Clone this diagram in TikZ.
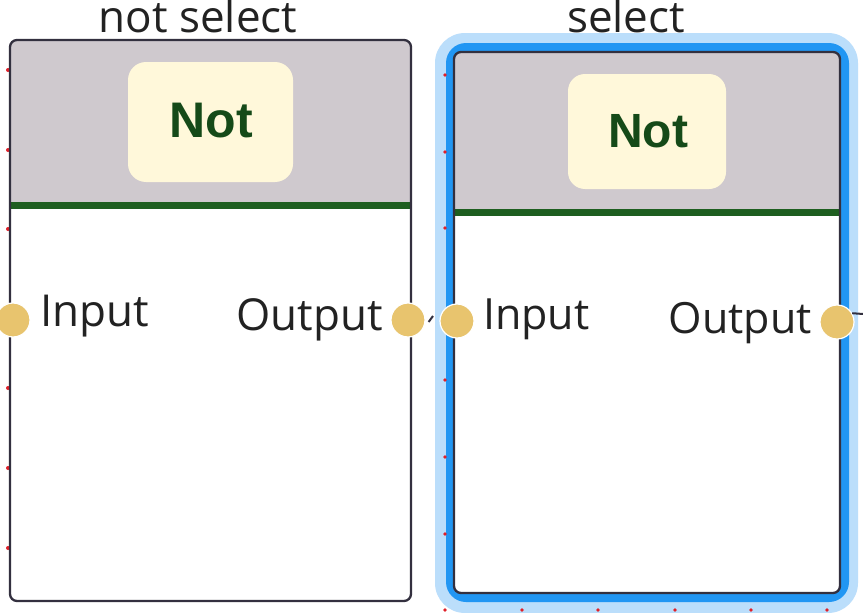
\documentclass[tikz,border=0pt]{standalone}
\usepackage{fontspec}
\newfontfamily\osans{Open Sans}
\newfontfamily\lsans{Liberation Sans}
\definecolor{hdrc}{HTML}{CFC9CE}
\definecolor{titlec}{HTML}{FFF8DA}
\definecolor{greenl}{HTML}{1E5E20}
\definecolor{nottxt}{HTML}{154A18}
\definecolor{borderc}{HTML}{33303F}
\definecolor{portc}{HTML}{E8C46E}
\definecolor{haloc}{HTML}{BBDEFB}
\definecolor{selc}{HTML}{2196F3}
\definecolor{dotc}{HTML}{E0202A}
\definecolor{txtc}{HTML}{222222}
\begin{document}
\begin{tikzpicture}[x=1pt,y=-1pt,
  port/.style={circle, fill=portc, draw=white, line width=1.2pt, minimum size=34pt, inner sep=0pt},
  titlebox/.style={fill=titlec, rounded corners=18pt},
  nottext/.style={inner sep=0pt, text=nottxt, font=\lsans\bfseries\fontsize{50}{55}\selectfont},
  lbl/.style={inner sep=0pt, text=txtc, font=\osans\fontsize{44}{50}\selectfont},
  captext/.style={inner sep=0pt, text=txtc, font=\osans\fontsize{44}{50}\selectfont},
  nodeborder/.style={draw=borderc, line width=2.3pt, rounded corners=7pt},
  greenbar/.style={draw=greenl, line width=7pt},
  gdot/.style={fill=dotc},
  stub/.style={draw=borderc, line width=2pt}]
\useasboundingbox (0,0) rectangle (863,613);
\fill[white] (0,0) rectangle (863,613);

% ---------- captions
\node[captext, anchor=base] (cap1) at (198,32) {not select};
\node[captext, anchor=base] (cap2) at (626,32) {select};

% ---------- grid dots
\foreach \y in {70,150,229,309,388,468,548} \fill[gdot] (8,\y) circle (2pt);

% ---------- left node (not selected)
\fill[white, rounded corners=7pt] (10,40) rectangle (411,601);
\begin{scope}
  \clip[rounded corners=7pt] (10,40) rectangle (411,601);
  \fill[hdrc] (10,40) rectangle (411,205.5);
\end{scope}
\draw[greenbar] (10,205.5) -- (411,205.5);
\draw[nodeborder] (10,40) rectangle (411,601);
\fill[titlebox] (128,62) rectangle (293,182);
\node[nottext] (lnot) at (211,121) {Not};
\node[port] (lin) at (13,320) {};
\node[port] (lout) at (408,320) {};
\node[lbl, anchor=base west] (linl) at (40,326) {Input};
\node[lbl, anchor=base east] (loutl) at (383,330) {Output};
\coordinate (lstub) at (433,316);
\draw[stub] ([xshift=3pt,yshift=-2pt]lout.east) -- (lstub);

% ---------- right node (selected)
\fill[haloc, rounded corners=30pt] (435,33) rectangle (858,613);
\fill[selc, rounded corners=20pt] (446,43) rectangle (849,602);
\fill[white, rounded corners=7pt] (454,52) rectangle (840,593);
\begin{scope}
  \clip[rounded corners=7pt] (454,52) rectangle (840,593);
  \fill[hdrc] (454,52) rectangle (840,212);
\end{scope}
\draw[greenbar] (454,212) -- (840,212);
\draw[nodeborder] (454,52) rectangle (840,593);
\fill[titlebox, rounded corners=17pt] (568,74) rectangle (726,189);
\node[nottext, font=\lsans\bfseries\fontsize{48}{53}\selectfont] (rnot) at (648,131) {Not};
\foreach \y in {75,152,228,380,457,534,610} \fill[gdot] (445,\y) circle (1.8pt);
\foreach \x in {522,598,675,751,827} \fill[gdot] (\x,610) circle (1.8pt);
\node[port] (rin) at (457,321) {};
\node[port] (rout) at (837,322) {};
\node[lbl, font=\osans\fontsize{43}{50}\selectfont, anchor=base west] (rinl) at (483,329) {Input};
\node[lbl, font=\osans\fontsize{43}{50}\selectfont, anchor=base east] (routl) at (812,333) {Output};
\coordinate (rstub) at (863,314);
\draw[stub] (rout.30) -- (rstub);
\end{tikzpicture}
\end{document}
